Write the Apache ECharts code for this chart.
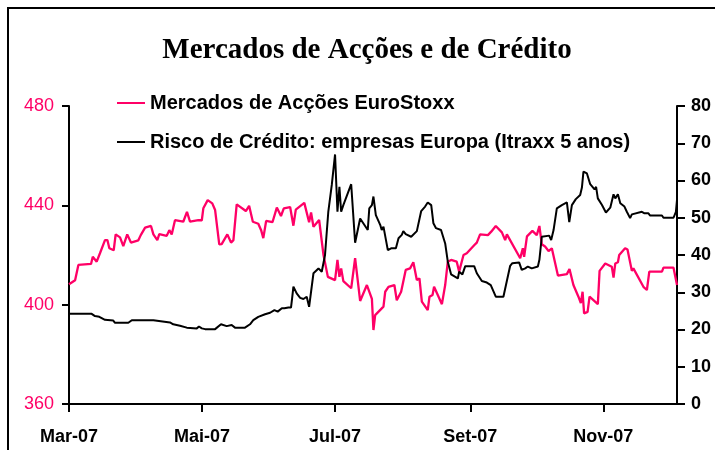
<!DOCTYPE html>
<html>
<head>
<meta charset="utf-8">
<title>Mercados de Acções e de Crédito</title>
<script src="https://cdn.jsdelivr.net/npm/echarts@6.0.0/dist/echarts.min.js"></script>
<style>
  html, body { margin: 0; padding: 0; background: #fff; }
  #chart { width: 715px; height: 450px; }
</style>
</head>
<body>
<div id="chart"></div>
<script>
// dias desde 1-Mar-2007 e valores
const stoxxDays = [0, 2.8, 4.3, 10.1, 10.9, 12.7, 14.2, 16.5, 17.6, 18.5, 20.5, 21.4, 23.4, 24.9, 26.7, 28.4, 31.8, 32.9, 34.9, 37.6,
  38.7, 40.5, 41.4, 44.8, 46, 47.1, 48.6, 52.4, 54.1, 55.5, 59.3, 60.1, 60.9, 61.6, 63.6, 65.7, 67, 68.9, 70, 72.6,
  74.3, 75.4, 76.9, 81.1, 82.6, 84.3, 86.8, 88.1, 89.1, 90.4, 93.3, 95.3, 97.2, 98.5, 101.4, 102.9, 104, 107.9, 110.1, 111,
  112.1, 114.7, 116.7, 118.7, 122, 123.1, 124, 124.8, 125.8, 129.4, 131.2, 133.5, 136.6, 138.9, 139.6, 140.4, 144.2, 145, 146.5, 149.2,
  150.3, 152.3, 154.4, 156.4, 157.9, 159.5, 160.7, 161.8, 164.5, 165.3, 166.7, 167.4, 169.1, 171, 172.5, 173.7, 175.2, 177.8, 178.9, 180.9,
  182.4, 185.9, 187, 188.5, 192.1, 193.6, 195.7, 198.5, 200, 200.8, 206.9, 208.1, 208.7, 210, 212.5, 214.5, 215.7, 216.8, 218.3, 219.9,
  221.4, 224.2, 228.3, 229.5, 231.3, 233.6, 234.7, 235.5, 236.2, 237.8, 238.7, 242.5, 243.3, 245.9, 248.9, 249.7, 250.5, 251.7, 252.3, 255,
  256.1, 257, 258.1, 258.8, 263.4, 265, 266.1, 271.9, 272.6, 277.2, 278.8];
const stoxxValues = [408.2, 409.8, 416, 416.4, 419.3, 417.3, 420.7, 426, 426, 422.7, 421.9, 428.3, 427.1, 423.6, 428.3, 425, 425.9, 428, 431, 431.7,
  428.3, 426, 428.4, 427.7, 430, 428.3, 434, 433.4, 437.4, 433.4, 434, 434.8, 434, 438.8, 442.1, 440.8, 438.1, 424.3, 424.4, 428.3,
  425, 426, 440.4, 437.7, 439.8, 433.4, 432.6, 430, 426.8, 433.7, 433.2, 439.1, 435.7, 438.8, 439.3, 431.8, 438.3, 441, 433.2, 437.1,
  431.4, 434.1, 420, 411.2, 409.9, 418, 411.2, 414.6, 409.5, 406.6, 418.7, 401.5, 407.9, 402.3, 389.8, 395.8, 399.2, 405.2, 407.2, 407.9,
  401.8, 405.2, 414, 414.6, 417.1, 409.9, 410.6, 401.2, 397.8, 403.2, 403.9, 407.2, 403.9, 400.2, 407.9, 417.3, 418, 417.3, 413.3, 420,
  420.7, 424, 425, 428.3, 428, 429.4, 431.7, 429.1, 426, 428.3, 418.7, 422.7, 419.3, 427.5, 429.7, 428, 431.7, 424.3, 423.4, 421.6,
  422.7, 411.7, 412.3, 414.4, 407.9, 403.2, 400.6, 405.2, 396.5, 397.1, 403.2, 400.2, 413.6, 416.6, 415.3, 410.9, 416.6, 417.1, 420, 422.7,
  422.2, 423, 413.6, 414.6, 407.2, 405.9, 413.3, 413.3, 414.9, 414.9, 407.9];

const itraxxDays = [0, 10.4, 11.9, 13.9, 16.5, 20.3, 21.1, 27.2, 28.8, 38.7, 39.4, 46.3, 47.8, 50.9, 54, 54.7, 58.6, 59.6, 60.9, 62.4,
  67, 69.7, 72.3, 74.6, 75.4, 76.1, 80.7, 83, 84.5, 86.8, 89.9, 92.2, 94.2, 95.7, 97.6, 98.8, 99.5, 100.6, 101.8, 102.4,
  102.9, 104.4, 106, 107.5, 109, 110.1, 112.1, 114.4, 115.9, 117.4, 118.9, 120.5, 122, 123.1, 124, 124.8, 125.8, 129.4, 131.2, 133.5,
  137, 137.7, 138.9, 139.6, 140.7, 142.7, 143.4, 144.2, 146.2, 147.7, 149.9, 151.1, 152.6, 153.3, 154.4, 156.9, 159.5, 161.5, 163.3, 164.5,
  166.1, 167.1, 168.3, 170.6, 172.5, 173.7, 175.2, 178.3, 178.9, 180.4, 181.7, 185.8, 187, 189.3, 191.6, 193.4, 195.7, 199.2, 202.3, 203.3,
  206.4, 207.6, 209.2, 210.4, 212.2, 215, 215.7, 216.8, 220.2, 221.1, 222.2, 223.7, 226, 228.3, 229.4, 230.6, 232.4, 234.4, 235.2, 235.9,
  237.5, 239, 241, 241.7, 242.5, 243.3, 244.4, 246.2, 248.2, 249.7, 250.5, 251.7, 252.8, 254.7, 255.8, 257.3, 258.1, 258.8, 262.7, 263.4,
  263.9, 265.7, 266.5, 271.9, 272.6, 277.2, 278.3, 278.8];
const itraxxValues = [24.2, 24.2, 23.6, 23.4, 22.6, 22.4, 21.8, 21.8, 22.5, 22.5, 22.1, 21.9, 21.4, 21, 20.5, 20.3, 20.3, 20.8, 20.3, 20.1,
  20.1, 21.4, 20.9, 21.2, 21.4, 20.5, 20.5, 21.4, 22.5, 23.4, 24.1, 24.5, 25.2, 24.8, 25.7, 25.7, 25.2, 25.9, 25.9, 28.8,
  31.5, 29.7, 28.5, 28.2, 28.8, 26.1, 35.1, 36.4, 35.5, 40, 51.6, 58.8, 67, 51.6, 58.3, 51.6, 53.4, 59, 43.3, 49.8,
  46.7, 52.5, 53.4, 55.7, 50.7, 48.1, 46.7, 47.6, 41.3, 41.8, 41.8, 44.5, 45.4, 46.4, 45.6, 44.9, 46.4, 51.8, 53, 54.1,
  53.4, 48.5, 47.2, 46.7, 43.1, 38.2, 34.8, 33.7, 35.5, 34.8, 37, 37, 35.1, 33, 32.6, 31.9, 28.8, 28.8, 37.1, 37.8,
  38, 36, 36.4, 36.9, 36.4, 36.9, 38.7, 44.9, 45.2, 44, 46.7, 52.5, 53.4, 54.1, 48.8, 53.4, 55, 56.1, 58.1, 62.4,
  61.9, 59, 57.6, 58.3, 55.2, 55.7, 53.4, 51.4, 52.7, 56.3, 55.2, 56.3, 53.9, 53, 51.6, 49.9, 50.9, 50.7, 51.6, 52.1,
  51.2, 51.2, 50.6, 50.6, 50, 50, 51.6, 54.8];

// marcas do eixo horizontal: meses (0 = Jan) e respectivos rótulos
const tickMonths = [2, 4, 6, 8, 10];
const tickLabels = ['Mar-07', 'Mai-07', 'Jul-07', 'Set-07', 'Nov-07'];

const DAY = 86400000;
const start = Date.UTC(2007, 2, 1);
// posição de cada marca em dias desde o início
const tickDays = tickMonths.map(m => Math.round((Date.UTC(2007, m, 1) - start) / DAY));

const pink = '#ff0066';
const legendText = { fontFamily: 'Liberation Sans', fontSize: 20, fontWeight: 'bold', color: '#000' };

const chart = echarts.init(document.getElementById('chart'));
chart.setOption({
    animation: false,
    backgroundColor: '#fff',
    graphic: [
        {
            type: 'rect',
            shape: { x: 8, y: 8, width: 720, height: 460 },
            style: { fill: 'none', stroke: '#000', lineWidth: 2 },
            silent: true
        },
        {
            type: 'text',
            x: 367, y: 51,
            style: {
                text: 'Mercados de Acções e de Crédito',
                x: 0, y: 0,
                align: 'center',
                verticalAlign: 'middle',
                font: 'bold 29px "Liberation Serif"',
                fill: '#000'
            }
        }
    ],
    legend: [
        {
            data: ['Mercados de Acções EuroStoxx'],
            left: 117, top: 93, padding: 0,
            icon: 'rect', itemWidth: 28, itemHeight: 2,
            textStyle: legendText
        },
        {
            data: ['Risco de Crédito: empresas Europa (Itraxx 5 anos)'],
            left: 117, top: 132, padding: 0,
            icon: 'rect', itemWidth: 28, itemHeight: 2,
            textStyle: legendText
        }
    ],
    grid: { left: 69, right: 38, top: 106, bottom: 46, outerBoundsMode: 'none' },
    xAxis: {
        type: 'value',
        min: 0,
        max: stoxxDays[stoxxDays.length - 1],
        splitLine: { show: false },
        axisLine: { lineStyle: { color: '#000', width: 2 } },
        axisTick: { show: true, inside: false, length: 8, lineStyle: { color: '#000', width: 2 }, customValues: tickDays },
        axisLabel: {
            customValues: tickDays,
            margin: 24,
            fontFamily: 'Liberation Sans', fontSize: 18, fontWeight: 'bold', color: '#000',
            formatter: v => tickLabels[tickDays.indexOf(v)] || ''
        }
    },
    yAxis: [
        {
            type: 'value', min: 360, max: 480, interval: 40,
            splitLine: { show: false },
            axisLine: { show: true, lineStyle: { color: '#000', width: 2 } },
            axisTick: { show: true, length: 7, lineStyle: { color: '#000', width: 2 } },
            axisLabel: { margin: 15, fontFamily: 'Liberation Sans', fontSize: 18, color: pink }
        },
        {
            type: 'value', min: 0, max: 80, interval: 10, position: 'right',
            splitLine: { show: false },
            axisLine: { show: true, lineStyle: { color: '#000', width: 2 } },
            axisTick: { show: true, length: 8, lineStyle: { color: '#000', width: 2 } },
            axisLabel: { margin: 14, fontFamily: 'Liberation Sans', fontSize: 18, fontWeight: 'bold', color: '#000' }
        }
    ],
    series: [
        {
            name: 'Mercados de Acções EuroStoxx',
            type: 'line',
            yAxisIndex: 0,
            symbol: 'none',
            lineStyle: { color: pink, width: 2.3 },
            itemStyle: { color: pink },
            data: stoxxDays.map((d, i) => [d, stoxxValues[i]])
        },
        {
            name: 'Risco de Crédito: empresas Europa (Itraxx 5 anos)',
            type: 'line',
            yAxisIndex: 1,
            symbol: 'none',
            lineStyle: { color: '#000', width: 2 },
            itemStyle: { color: '#000' },
            data: itraxxDays.map((d, i) => [d, itraxxValues[i]])
        }
    ]
});
</script>
</body>
</html>
